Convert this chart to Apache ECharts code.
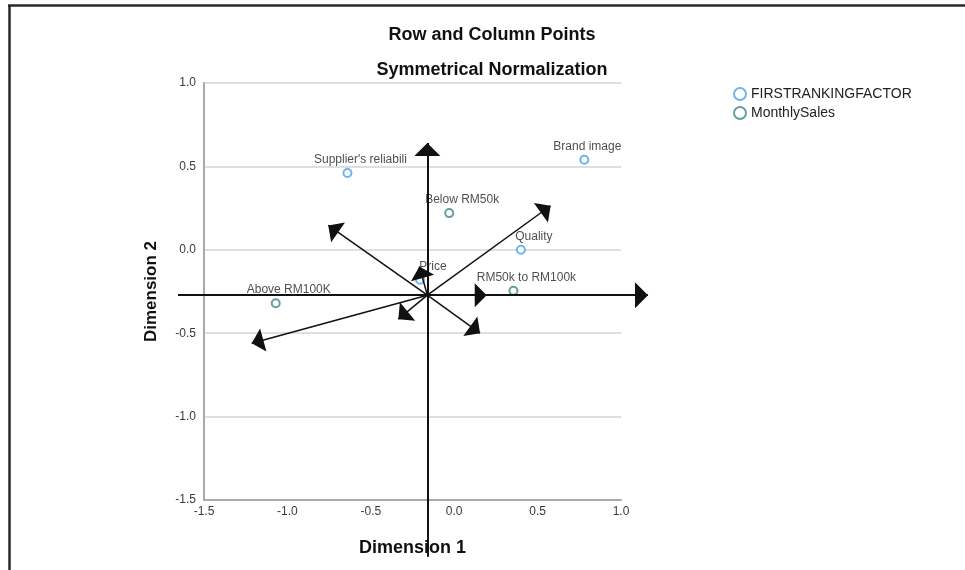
<!DOCTYPE html>
<html><head><meta charset="utf-8">
<script src="https://cdn.jsdelivr.net/npm/echarts@6/dist/echarts.min.js"></script>
<style>html,body{margin:0;padding:0;background:#fff}#c{width:965px;height:570px}</style>
</head><body><div id="c"></div>
<script>
// Row points (FIRSTRANKINGFACTOR)
const rowCategories = ["Supplier's reliabili", "Brand image", "Quality", "Price"];
const rowDim1 = [-0.64, 0.78, 0.40, -0.205];
const rowDim2 = [0.46, 0.54, 0.00, -0.18];
// Column points (MonthlySales)
const colCategories = ["Below RM50k", "RM50k to RM100k", "Above RM100K"];
const colDim1 = [-0.03, 0.355, -1.07];
const colDim2 = [0.22, -0.245, -0.32];
const axisTicks = [-1.5, -1.0, -0.5, 0.0, 0.5, 1.0];
const seriesNames = ["FIRSTRANKINGFACTOR", "MonthlySales"];
// hand-drawn annotation arrows (in dimension units)
const arrowOrigin = [-0.161, -0.272];
const crossStarts = [[-1.656, -0.272], [-0.161, -1.84]];
const crossTips = [[1.162, -0.272], [-0.161, 0.64]];
const arrowTips = [[-0.755, 0.146], [0.578, 0.264], [-0.209, -0.10], [0.195, -0.272], [-0.335, -0.416], [0.155, -0.50], [-1.214, -0.56]];

const FONT = '"Liberation Sans", Arial, sans-serif';
const BLUE = '#4aa3e8', TEAL = '#3a8a86';
const head = 'path://M5,10 L10,20 L0,20 Z M5,0 L5.01,0';

function pts(names, xs, ys) {
  return names.map((n, i) => {
    const d = { name: n, value: [xs[i], ys[i]] };
    if (n === 'Brand image') d.label = { offset: [3, 0] };
    return d;
  });
}
const ptLabel = { show: true, position: 'top', distance: 2, offset: [13, 0], formatter: '{b}',
  color: '#222', fontSize: 12, fontFamily: FONT };

const chart = echarts.init(document.getElementById('c'), null, { renderer: 'canvas' });
chart.setOption({
  backgroundColor: '#fff',
  animation: false,
  grid: { left: 204, top: 83, width: 417, height: 417 },
  xAxis: {
    type: 'value', min: axisTicks[0], max: axisTicks[axisTicks.length - 1], interval: 0.5,
    name: 'Dimension 1', nameLocation: 'middle', nameGap: 39,
    nameTextStyle: { fontSize: 18, fontWeight: 'bold', color: '#111', fontFamily: FONT },
    axisLine: { show: true, onZero: false, lineStyle: { color: '#aaa', width: 2 } },
    axisTick: { show: false },
    splitLine: { show: false },
    axisLabel: { formatter: v => v.toFixed(1), color: '#3a3a3a', fontSize: 12, fontFamily: FONT, margin: 6 }
  },
  yAxis: {
    type: 'value', min: axisTicks[0], max: axisTicks[axisTicks.length - 1], interval: 0.5,
    name: 'Dimension 2', nameLocation: 'middle', nameGap: 44, nameRotate: 90,
    nameTextStyle: { fontSize: 17, fontWeight: 'bold', color: '#111', fontFamily: FONT },
    axisLine: { show: true, onZero: false, lineStyle: { color: '#aaa', width: 2 } },
    axisTick: { show: false },
    splitLine: { show: true, lineStyle: { color: '#d4d4d4', width: 1.5 } },
    axisLabel: { formatter: v => v.toFixed(1), color: '#3a3a3a', fontSize: 12, fontFamily: FONT, margin: 8 }
  },
  legend: {
    orient: 'vertical', left: 733, top: 87, padding: 0, itemWidth: 12, itemHeight: 12, itemGap: 5,
    data: seriesNames,
    textStyle: { fontSize: 14, color: '#222', fontFamily: FONT, padding: [0, 0, 0, 0] },
    itemStyle: { borderWidth: 2 }
  },
  graphic: [
    { type: 'text', x: 492, y: 35, style: { text: 'Row and Column Points', font: 'bold 18px ' + FONT, fill: '#111', align: 'center', verticalAlign: 'middle' } },
    { type: 'text', x: 492, y: 70, style: { text: 'Symmetrical Normalization', font: 'bold 18px ' + FONT, fill: '#111', align: 'center', verticalAlign: 'middle' } },
    { type: 'line', shape: { x1: 9.5, y1: 5, x2: 9.5, y2: 570 }, style: { stroke: '#2a2a2a', lineWidth: 2.5 } },
    { type: 'line', shape: { x1: 8, y1: 5.5, x2: 965, y2: 5.5 }, style: { stroke: '#2a2a2a', lineWidth: 2.5 } }
  ],
  series: [
    {
      name: seriesNames[0], type: 'scatter', symbol: 'emptyCircle', symbolSize: 8,
      itemStyle: { color: BLUE, borderWidth: 1.8 }, label: ptLabel, z: 5,
      data: pts(rowCategories, rowDim1, rowDim2)
    },
    {
      name: seriesNames[1], type: 'scatter', symbol: 'emptyCircle', symbolSize: 8,
      itemStyle: { color: TEAL, borderWidth: 1.8 }, label: ptLabel, z: 5,
      data: pts(colCategories, colDim1, colDim2)
    },
    {
      type: 'lines', coordinateSystem: 'cartesian2d', clip: false, z: 6, silent: true,
      symbol: ['none', head], symbolSize: [17, 26],
      lineStyle: { color: '#111', width: 2, opacity: 1 },
      data: crossStarts.map((s, i) => ({ coords: [s, crossTips[i]] }))
    },
    {
      type: 'lines', coordinateSystem: 'cartesian2d', clip: false, z: 6, silent: true,
      symbol: ['none', head], symbolSize: [14, 24],
      lineStyle: { color: '#111', width: 1.5, opacity: 1 },
      data: arrowTips.map(t => ({ coords: [arrowOrigin, t] }))
    }
  ]
});
</script></body></html>
